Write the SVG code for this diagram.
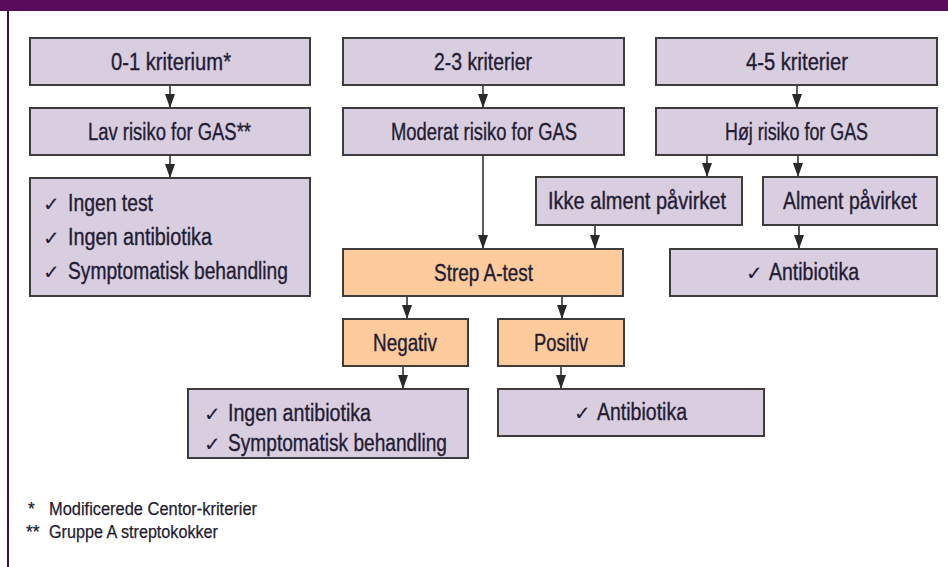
<svg xmlns="http://www.w3.org/2000/svg" width="948" height="567" viewBox="0 0 948 567">
<defs>
<style>
.box{fill:#d9cde0;stroke:#3d3d3d;stroke-width:2}
.org{fill:#fdca9b;stroke:#3d3d3d;stroke-width:2}
.t{font-family:"Liberation Sans",Arial,sans-serif;font-size:23px;fill:#221c33;stroke:#221c33;stroke-width:0.35}
.ck{font-family:"DejaVu Sans",sans-serif;font-size:20px;fill:#221c33}
.fn{font-family:"Liberation Sans",Arial,sans-serif;font-size:17.5px;fill:#221c33;stroke:#221c33;stroke-width:0.25}
.c{fill:none;stroke:#333;stroke-width:1.6}
</style>
<marker id="ah" viewBox="0 0 14 10" refX="14" refY="5" markerWidth="14" markerHeight="10" markerUnits="userSpaceOnUse" orient="auto">
<path d="M0,0 L14,5 L0,10 z" fill="#2a2a2a"/>
</marker>
</defs>
<rect x="0" y="0" width="948" height="567" fill="#ffffff"/>
<rect x="0" y="0" width="948" height="11" fill="#5a0b5c"/>
<line x1="8" y1="11" x2="8" y2="567" stroke="#3b0f3d" stroke-width="2"/>

<g id="connectors">
<line class="c" x1="170" y1="85" x2="170" y2="108" marker-end="url(#ah)"/>
<line class="c" x1="170" y1="155" x2="170" y2="178" marker-end="url(#ah)"/>
<line class="c" x1="483" y1="85" x2="483" y2="108" marker-end="url(#ah)"/>
<line class="c" x1="483" y1="155" x2="483" y2="249" marker-end="url(#ah)"/>
<line class="c" x1="797" y1="85" x2="797" y2="108" marker-end="url(#ah)"/>
<line class="c" x1="707" y1="155" x2="707" y2="177" marker-end="url(#ah)"/>
<line class="c" x1="798" y1="155" x2="798" y2="177" marker-end="url(#ah)"/>
<line class="c" x1="799" y1="225" x2="799" y2="249" marker-end="url(#ah)"/>
<line class="c" x1="595" y1="225" x2="595" y2="249" marker-end="url(#ah)"/>
<line class="c" x1="407" y1="296" x2="407" y2="319" marker-end="url(#ah)"/>
<line class="c" x1="562" y1="296" x2="562" y2="319" marker-end="url(#ah)"/>
<line class="c" x1="403" y1="366" x2="403" y2="389" marker-end="url(#ah)"/>
<line class="c" x1="561" y1="366" x2="561" y2="389" marker-end="url(#ah)"/>
</g>

<g id="n01">
<rect class="box" x="30" y="38" width="280" height="47"/>
<text class="t" x="111" y="70" textLength="120" lengthAdjust="spacingAndGlyphs">0-1 kriterium*</text>
</g>
<g id="lav">
<rect class="box" x="30" y="108" width="280" height="47"/>
<text class="t" x="88" y="140" textLength="163" lengthAdjust="spacingAndGlyphs">Lav risiko for GAS**</text>
</g>
<g id="lavres">
<rect class="box" x="30" y="178" width="280" height="118"/>
<text class="ck" x="43" y="211">✓</text><text class="t" x="68" y="211" textLength="85" lengthAdjust="spacingAndGlyphs">Ingen test</text>
<text class="ck" x="43" y="245">✓</text><text class="t" x="68" y="245" textLength="144" lengthAdjust="spacingAndGlyphs">Ingen antibiotika</text>
<text class="ck" x="43" y="279">✓</text><text class="t" x="68" y="279" textLength="220" lengthAdjust="spacingAndGlyphs">Symptomatisk behandling</text>
</g>

<g id="n23">
<rect class="box" x="343" y="38" width="281" height="47"/>
<text class="t" x="434" y="70" textLength="98" lengthAdjust="spacingAndGlyphs">2-3 kriterier</text>
</g>
<g id="moderat">
<rect class="box" x="343" y="108" width="281" height="47"/>
<text class="t" x="391" y="140" textLength="186" lengthAdjust="spacingAndGlyphs">Moderat risiko for GAS</text>
</g>

<g id="n45">
<rect class="box" x="656" y="38" width="281" height="47"/>
<text class="t" x="746" y="70" textLength="102" lengthAdjust="spacingAndGlyphs">4-5 kriterier</text>
</g>
<g id="hoj">
<rect class="box" x="656" y="108" width="281" height="47"/>
<text class="t" x="725" y="140" textLength="143" lengthAdjust="spacingAndGlyphs">Høj risiko for GAS</text>
</g>
<g id="ikke">
<rect class="box" x="536" y="177" width="206" height="48"/>
<text class="t" x="548" y="209" textLength="178" lengthAdjust="spacingAndGlyphs">Ikke alment påvirket</text>
</g>
<g id="alment">
<rect class="box" x="763" y="177" width="174" height="48"/>
<text class="t" x="783" y="209" textLength="134" lengthAdjust="spacingAndGlyphs">Alment påvirket</text>
</g>
<g id="antiR">
<rect class="box" x="670" y="249" width="267" height="47"/>
<text class="ck" x="746" y="280">✓</text><text class="t" x="769" y="280" textLength="90" lengthAdjust="spacingAndGlyphs">Antibiotika</text>
</g>

<g id="strep">
<rect class="org" x="343" y="249" width="280" height="47"/>
<text class="t" x="434" y="281" textLength="99" lengthAdjust="spacingAndGlyphs">Strep A-test</text>
</g>
<g id="negativ">
<rect class="org" x="343" y="319" width="125" height="47"/>
<text class="t" x="373" y="351" textLength="64" lengthAdjust="spacingAndGlyphs">Negativ</text>
</g>
<g id="positiv">
<rect class="org" x="498" y="319" width="126" height="47"/>
<text class="t" x="534" y="351" textLength="54" lengthAdjust="spacingAndGlyphs">Positiv</text>
</g>
<g id="negres">
<rect class="box" x="188" y="389" width="280" height="69"/>
<text class="ck" x="204" y="421">✓</text><text class="t" x="228" y="421" textLength="143" lengthAdjust="spacingAndGlyphs">Ingen antibiotika</text>
<text class="ck" x="204" y="451">✓</text><text class="t" x="228" y="451" textLength="219" lengthAdjust="spacingAndGlyphs">Symptomatisk behandling</text>
</g>
<g id="posres">
<rect class="box" x="498" y="389" width="266" height="47"/>
<text class="ck" x="574" y="420">✓</text><text class="t" x="597" y="420" textLength="90" lengthAdjust="spacingAndGlyphs">Antibiotika</text>
</g>

<g id="footnotes">
<text class="fn" x="28" y="515">*</text>
<text class="fn" x="49" y="515" textLength="208" lengthAdjust="spacingAndGlyphs">Modificerede Centor-kriterier</text>
<text class="fn" x="26" y="538">**</text>
<text class="fn" x="49" y="538" textLength="169" lengthAdjust="spacingAndGlyphs">Gruppe A streptokokker</text>
</g>
</svg>
